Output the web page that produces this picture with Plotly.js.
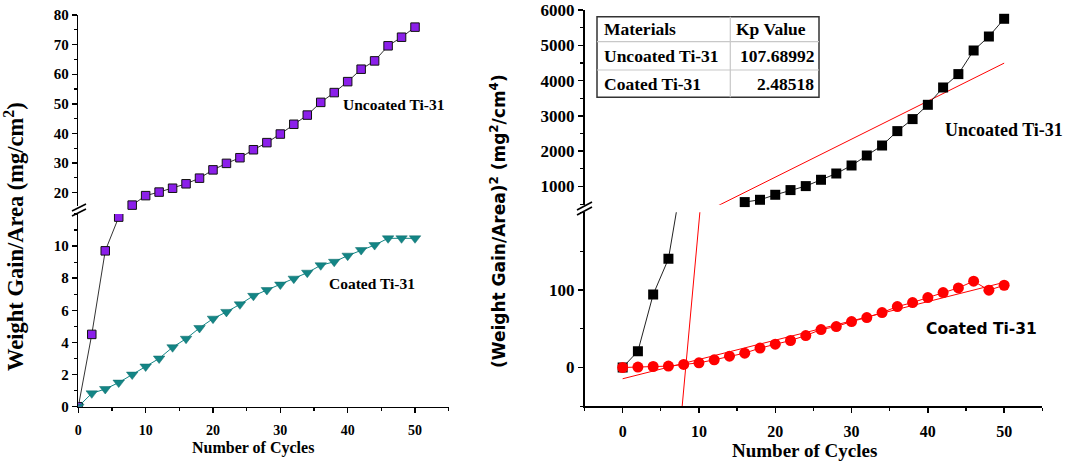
<!DOCTYPE html>
<html><head><meta charset="utf-8">
<script src="https://cdn.plot.ly/plotly-3.0.1.min.js"></script>
<style>html,body{margin:0;padding:0;background:#fff}#chart{width:1069px;height:464px}</style>
</head><body><div id="chart"></div>
<script>
// ---------- data ----------
const cycles = [0,2,4,6,8,10,12,14,16,18,20,22,24,26,28,30,32,34,36,38,40,42,44,46,48,50];
const uncoatedGain = [0,4.5,9.7,11.8,15.8,19.0,20.2,21.5,23.0,24.9,27.7,29.9,31.8,34.5,36.9,39.8,43.1,46.2,50.5,53.8,57.5,61.7,64.5,69.6,72.5,75.9];
const coatedGain = [0,0.83,1.1,1.5,2.0,2.5,3.0,3.7,4.23,4.9,5.48,5.9,6.37,6.9,7.26,7.6,7.97,8.34,8.8,9.02,9.4,9.75,10.06,10.48,10.48,10.48];

const uncoatedSqLowCycles = [0,2,4,6,8];
const uncoatedSqLow = [0,21,94,140,256];
const uncoatedSqHighCycles = [16,18,20,22,24,26,28,30,32,34,36,38,40,42,44,46,48,50];
const uncoatedSqHigh = [558,623,765,898,1011,1190,1368,1595,1878,2161,2569,2909,3314,3805,4184,4853,5249,5751];
const coatedSq = [0,0.5,1.3,1.8,3.9,6,9.9,14.6,18.5,25,30,34.8,41.2,48.9,52.8,59.2,64.4,70.8,78.5,83.7,90.1,96.5,102.6,111.2,99.6,106];

const materials = ["Uncoated Ti-31", "Coated Ti-31"];
const kpValues = [107.68992, 2.48518];
const kpLabels = ["107.68992", "2.48518"];
const fitIntercepts = [-890, -14.5];
const fitCycles = [0, 50];

const seriesLabels = ["Uncoated Ti-31", "Coated Ti-31"];
const lowLeftTicks = [0,2,4,6,8,10];
const lowRightTicks = [0,100];

// ---------- helpers ----------
const W = 1069, H = 464;
const fx = p => p / W;
const fy = p => 1 - p / H;
const SERIF = "Liberation Serif, Times New Roman, serif";
const SANS = "DejaVu Sans, Verdana, sans-serif";
const fitLine = i => fitCycles.map(c => kpValues[i] * c + fitIntercepts[i]);

const purple = "#8B1FEA", teal = "#138585", red = "#FF0000";

const traces = [
  // right panel fit lines (drawn first)
  {x: fitCycles, y: fitLine(0), xaxis: "x2", yaxis: "y3", mode: "lines", line: {color: red, width: 1}, hoverinfo: "skip"},
  {x: fitCycles, y: fitLine(0), xaxis: "x2", yaxis: "y4", mode: "lines", line: {color: red, width: 1}, hoverinfo: "skip"},
  {x: fitCycles, y: fitLine(1), xaxis: "x2", yaxis: "y3", mode: "lines", line: {color: red, width: 1}, hoverinfo: "skip"},
  // left panel
  {x: cycles.slice(0,4), y: uncoatedGain.slice(0,4), xaxis: "x", yaxis: "y", mode: "lines+markers",
   line: {color: "#333", width: 1}, marker: {symbol: "square", size: 8.5, color: purple, line: {color: "#111", width: 1}}},
  {x: cycles.slice(4), y: uncoatedGain.slice(4), xaxis: "x", yaxis: "y2", mode: "lines+markers", cliponaxis: false,
   line: {color: "#333", width: 1}, marker: {symbol: "square", size: 8.5, color: purple, line: {color: "#111", width: 1}}},
  {x: cycles, y: coatedGain, xaxis: "x", yaxis: "y", mode: "lines+markers",
   line: {color: teal, width: 1}, marker: {symbol: "triangle-down", size: 10, color: teal, line: {color: "#0c6a6a", width: 0.5}}},
  // right panel
  {x: uncoatedSqLowCycles, y: uncoatedSqLow, xaxis: "x2", yaxis: "y3", mode: "lines+markers",
   line: {color: "#222", width: 1}, marker: {symbol: "square", size: 10, color: "#000"}},
  {x: uncoatedSqHighCycles, y: uncoatedSqHigh, xaxis: "x2", yaxis: "y4", mode: "lines+markers", cliponaxis: false,
   line: {color: "#222", width: 1}, marker: {symbol: "square", size: 10, color: "#000"}},
  {x: cycles, y: coatedSq, xaxis: "x2", yaxis: "y3", mode: "lines+markers",
   line: {color: red, width: 1}, marker: {symbol: "circle", size: 11, color: red}}
];

const axBase = {showline: true, linecolor: "#000", linewidth: 1.6, ticks: "outside", ticklen: 5, tickwidth: 1.4,
  tickcolor: "#000", showgrid: false, zeroline: false, fixedrange: true};
const minor = d => ({tickmode: "linear", tick0: 0, dtick: d, ticks: "outside", ticklen: 3, tickwidth: 1.2, tickcolor: "#000"});
const tf = s => ({family: SERIF, size: s, color: "#000", weight: "bold"});

const layout = {
  width: W, height: H, margin: {l: 0, r: 0, t: 0, b: 0}, showlegend: false,
  paper_bgcolor: "#fff", plot_bgcolor: "rgba(0,0,0,0)",
  xaxis: Object.assign({}, axBase, {domain: [fx(78.3), fx(448.7)], range: [0, 55], anchor: "y",
    tickmode: "linear", tick0: 0, dtick: 10, minor: minor(5), tickfont: tf(14), ticklabelstandoff: 5}),
  yaxis: Object.assign({}, axBase, {domain: [fy(406.7), fy(213.9)], range: [0, 12], anchor: "x",
    tickmode: "array", tickvals: lowLeftTicks, minor: minor(1), tickfont: tf(15)}),
  yaxis2: Object.assign({}, axBase, {domain: [fy(206), fy(15)], range: [15.5, 80], anchor: "x",
    tickmode: "linear", tick0: 0, dtick: 10, minor: minor(5), tickfont: tf(15)}),
  xaxis2: Object.assign({}, axBase, {domain: [fx(584.5), fx(1042.3)], range: [-5, 55], anchor: "y3",
    tickmode: "linear", tick0: 0, dtick: 10, minor: minor(5), tickfont: tf(16), ticklabelstandoff: 5}),
  yaxis3: Object.assign({}, axBase, {domain: [fy(406.3), fy(212.3)], range: [-50, 200], anchor: "x2",
    tickmode: "array", tickvals: lowRightTicks, minor: minor(50), tickfont: tf(17)}),
  yaxis4: Object.assign({}, axBase, {domain: [fy(204.7), fy(10)], range: [484, 6000], anchor: "x2",
    tickmode: "linear", tick0: 0, dtick: 1000, minor: minor(500), tickfont: tf(17)}),
  shapes: [],
  annotations: []
};

// axis break marks
function brk(x0, y0, x1, y1) {
  layout.shapes.push({type: "line", xref: "paper", yref: "paper", x0: fx(x0), y0: fy(y0), x1: fx(x1), y1: fy(y1),
    line: {color: "#000", width: 1.6}});
}
brk(72, 211, 86, 204); brk(72, 216, 86, 209);
brk(577, 210, 592, 202); brk(577, 215, 592, 207);

// table
const tbl = {l: 597, r: 819, t: 16.7, b: 97.3, rows: [41.7, 70], col: 730.3};
layout.shapes.push({type: "rect", xref: "paper", yref: "paper", x0: fx(tbl.l), x1: fx(tbl.r), y0: fy(tbl.b), y1: fy(tbl.t),
  line: {color: "#333", width: 1.5}, fillcolor: "rgba(255,255,255,0)"});
tbl.rows.forEach(r => layout.shapes.push({type: "line", xref: "paper", yref: "paper", x0: fx(tbl.l), x1: fx(tbl.r), y0: fy(r), y1: fy(r),
  line: {color: "#c8c8c8", width: 1.2}}));
layout.shapes.push({type: "line", xref: "paper", yref: "paper", x0: fx(tbl.col), x1: fx(tbl.col), y0: fy(tbl.t), y1: fy(tbl.b),
  line: {color: "#c8c8c8", width: 1.2}});

function ann(text, x, y, font, opts) {
  layout.annotations.push(Object.assign({text: text, x: fx(x), y: fy(y), xref: "paper", yref: "paper",
    showarrow: false, xanchor: "center", yanchor: "middle", font: font}, opts || {}));
}
const sf = s => ({family: SERIF, size: s, color: "#000", weight: "bold"});
const nf = s => ({family: SANS, size: s, color: "#000", weight: "bold"});

const rowMid = [(tbl.t + tbl.rows[0]) / 2, (tbl.rows[0] + tbl.rows[1]) / 2, (tbl.rows[1] + tbl.b) / 2];
ann("Materials", 601.5, rowMid[0], sf(17.5), {xanchor: "left"});
ann("Kp Value", 734, rowMid[0], sf(17.5), {xanchor: "left"});
materials.forEach((m, i) => {
  ann(m, 601.5, rowMid[i + 1], sf(17.5), {xanchor: "left"});
  ann(kpLabels[i], 816, rowMid[i + 1], sf(17.5), {xanchor: "right"});
});

// series labels
ann(seriesLabels[0], 393, 104, sf(15.5));
ann(seriesLabels[1], 372, 283, sf(15.5));
ann(seriesLabels[0], 1004, 130, sf(18));
ann(seriesLabels[1], 981, 329, nf(15.5));

// axis titles
ann("Number of Cycles", 253, 448, sf(16));
ann("Number of Cycles", 804, 450, sf(19));
ann("Weight Gain/Area (mg/cm<sup>2</sup>)", 14, 237, sf(22.5), {textangle: -90});
ann("(Weight Gain/Area)<sup>2</sup> (mg<sup>2</sup>/cm<sup>4</sup>)", 498, 221, nf(17), {textangle: -90});

Plotly.newPlot("chart", traces, layout, {staticPlot: true, displayModeBar: false});
</script>
</body></html>
